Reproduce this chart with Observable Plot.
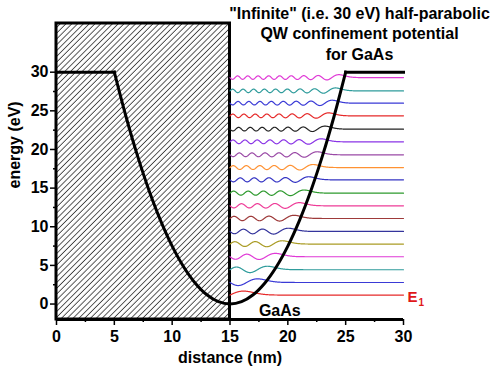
<!DOCTYPE html>
<html><head><meta charset="utf-8">
<script src="https://cdn.jsdelivr.net/npm/d3@7"></script>
<script src="https://cdn.jsdelivr.net/npm/@observablehq/plot@0.6"></script>
<style>body{margin:0;background:#fff}#chart{width:492px;height:377px}</style>
</head><body><div id="chart"></div>
<script>
// ---- data ----
const xDomain = [0, 30];
const yDomain = [-2, 36.3];
const xTicks = [0, 5, 10, 15, 20, 25, 30];
const xMinorTicks = [2.5, 7.5, 12.5, 17.5, 22.5, 27.5];
const yTicks = [0, 5, 10, 15, 20, 25, 30];
const yMinorTicks = [2.5, 7.5, 12.5, 17.5, 22.5, 27.5];

// infinite barrier region (hatched)
const barrier = [{x1: 0, x2: 15}];

// confinement potential V(x) in eV, in three pieces
const potLeftX = [0, 5];
const potLeftV = [30, 30];
const potWellX = [5, 6, 7, 8, 9, 10, 11, 12, 13, 14, 15, 16, 17, 18, 19, 20, 21, 22, 23, 24, 25];
const potWellV = [30, 24.3, 19.2, 14.7, 10.8, 7.5, 4.8, 2.7, 1.2, 0.3, 0, 0.3, 1.2, 2.7, 4.8, 7.5, 10.8, 14.7, 19.2, 24.3, 30];
const potRightX = [25, 30];
const potRightV = [30, 30];

// bound-state energies E1..E18 (eV), bottom to top
const levelEnergies = [1.16, 2.79, 4.44, 6.12, 7.76, 9.39, 11.07, 12.71, 14.35, 16.07, 17.66, 19.31, 20.99, 22.63, 24.35, 25.99, 27.58, 29.30];
const levelColors = ["#e62a2a", "#3a3ad6", "#2f9c9c", "#e03ad6", "#aa9c25", "#34349c", "#9e3a3a", "#ee3c98", "#2e9a2e", "#3434c4", "#ff9233", "#9a4aa6", "#8a34e6", "#222222", "#e62a2a", "#3a3ad6", "#2f9c9c", "#e03ad6"];
const wellCenter = 15;      // nm (infinite wall / parabola minimum)
const lengthScale = 1.173;  // nm, oscillator length for GaAs
const waveAmp = 0.8;        // eV per unit normalized amplitude

const titleLines = "\"Infinite\" (i.e. 30 eV) half-parabolic\nQW confinement potential\nfor GaAs";
const xLabel = "distance (nm)";
const yLabel = "energy (eV)";
const notes = [{text: "GaAs", x: 17.5, y: -0.9}];

// ---- tables for the marks ----
const potential = [
  ...potLeftX.map((x, i) => ({x, v: potLeftV[i], seg: "left"})),
  ...potWellX.map((x, i) => ({x, v: potWellV[i], seg: "well"})),
  ...potRightX.map((x, i) => ({x, v: potRightV[i], seg: "right"}))
];
const waves = [];
levelEnergies.forEach((E, i) => {
  const k = 2 * i + 1; // odd states only (infinite wall at centre)
  for (let j = 0; j <= 750; j++) {
    const x = wellCenter + j * 0.02;
    const xi = (x - wellCenter) / lengthScale;
    let p0 = Math.pow(Math.PI, -0.25) * Math.exp(-xi * xi / 2);
    let p1 = Math.SQRT2 * xi * p0;
    for (let m = 1; m < k; m++) {
      const p2 = Math.sqrt(2 / (m + 1)) * xi * p1 - Math.sqrt(m / (m + 1)) * p0;
      p0 = p1; p1 = p2;
    }
    waves.push({x, y: E + waveAmp * p1, level: i});
  }
});
const e1 = [{x: xDomain[1], y: levelEnergies[0]}];

const font = "'Liberation Sans', Arial, Helvetica, sans-serif";
const svg = Plot.plot({
  width: 492, height: 377,
  marginLeft: 56, marginRight: 89, marginTop: 23, marginBottom: 58,
  style: {fontFamily: font, fontWeight: "bold", fontSize: "16px", color: "#000", background: "#fff"},
  x: {domain: xDomain},
  y: {domain: yDomain},
  color: {type: "identity"},
  marks: [
    Plot.rect(barrier, {x1: "x1", x2: "x2", y1: () => yDomain[0], y2: () => yDomain[1], fill: "url(#hatch)", stroke: "#000", strokeWidth: 3}),
    Plot.ruleY([yDomain[0]], {strokeWidth: 3}),
    Plot.line(waves, {x: "x", y: "y", z: "level", stroke: d => levelColors[d.level], strokeWidth: 1.2}),
    Plot.line(potential, {x: "x", y: "v", z: "seg", stroke: "#000", strokeWidth: 3, curve: "catmull-rom", strokeLinecap: "square", strokeLinejoin: "miter"}),
    Plot.axisX(xTicks, {tickSize: 6, tickPadding: 5, strokeWidth: 1.5, label: null}),
    Plot.axisX(xMinorTicks, {tickSize: 3, strokeWidth: 1.5, fill: "none", label: null}),
    Plot.axisY(yTicks, {tickSize: 6, tickPadding: 2, strokeWidth: 1.5, label: null}),
    Plot.axisY(yMinorTicks, {tickSize: 3, strokeWidth: 1.5, fill: "none", label: null}),
    Plot.text(notes, {x: "x", y: "y", text: "text", textAnchor: "start", fontSize: 16}),
    Plot.text(e1, {x: "x", y: "y", text: () => "E", textAnchor: "start", dx: 4, dy: 2, fill: "#e01818", fontSize: 15}),
    Plot.text(e1, {x: "x", y: "y", text: () => "1", textAnchor: "start", dx: 15, dy: 8, fill: "#e01818", fontSize: 10}),
    Plot.text([titleLines], {frameAnchor: "top", text: d => d, dx: 129.5, dy: -19, lineAnchor: "top", lineHeight: 1.27, fontSize: 16}),
    Plot.text([xLabel], {frameAnchor: "bottom", text: d => d, dy: 43, fontSize: 16}),
    Plot.text([yLabel], {frameAnchor: "left", text: d => d, rotate: -90, dx: -42, dy: 17, fontSize: 16})
  ]
});
const ns = "http://www.w3.org/2000/svg";
const defs = document.createElementNS(ns, "defs");
defs.innerHTML = '<pattern id="hatch" patternUnits="userSpaceOnUse" width="4.1" height="4.1" patternTransform="rotate(45)"><rect width="4.1" height="4.1" fill="#fff"/><line x1="2" y1="-1" x2="2" y2="5.1" stroke="#3a3a3a" stroke-width="0.85"/></pattern>';
svg.insertBefore(defs, svg.firstChild);
document.getElementById("chart").appendChild(svg);
</script>
</body></html>
